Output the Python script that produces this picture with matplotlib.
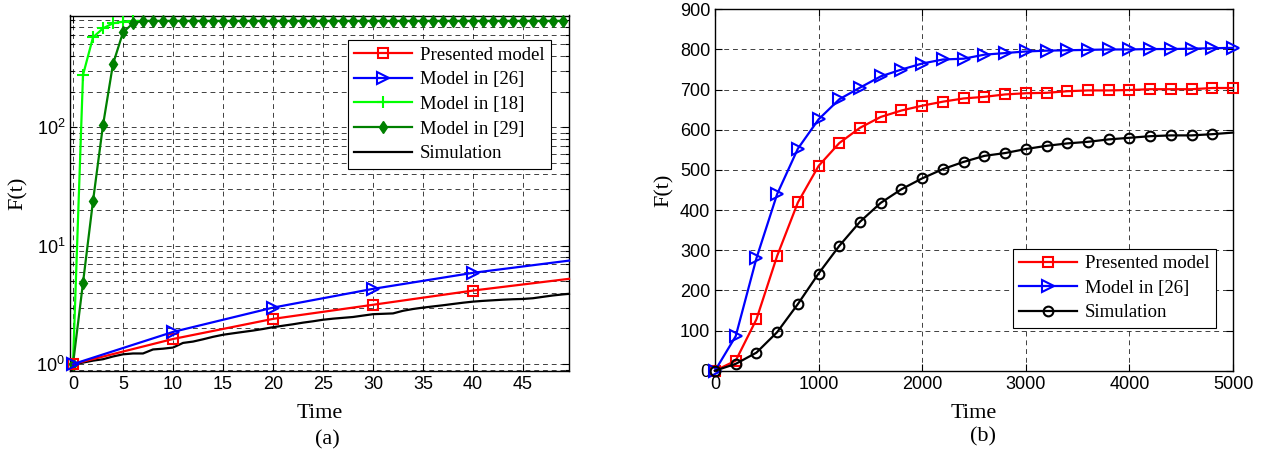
import numpy as np
import matplotlib
matplotlib.use("Agg")
import matplotlib.pyplot as plt
from matplotlib.ticker import LogLocator, LogFormatterMathtext, NullFormatter, MultipleLocator

plt.rcParams['mathtext.fontset'] = 'custom'
plt.rcParams['mathtext.rm'] = 'Liberation Sans'
plt.rcParams['mathtext.it'] = 'Liberation Sans'
plt.rcParams['font.family'] = ['Liberation Sans', 'DejaVu Sans']

# ---------------- (a) data ----------------
a_t_marked = [0, 10, 20, 30, 40, 49.6]
a_presented = [1.0, 1.63, 2.41, 3.17, 4.18, 5.25]
a_model26 = [1.0, 1.87, 3.0, 4.32, 5.9, 7.48]

a_t_int = list(range(0, 50))
a_model18 = [1.0, 276, 574, 684, 755, 778] + [790] * 44
a_model29 = [1.0, 4.86, 23.8, 104, 342, 632, 755] + [790] * 43

a_t_sim = list(range(0, 50)) + [49.6]
a_sim = [1.0, 1.03, 1.07, 1.10, 1.16, 1.21, 1.23, 1.23, 1.33, 1.35,
         1.38, 1.51, 1.55, 1.62, 1.70, 1.77, 1.82, 1.87, 1.92, 1.98,
         2.05, 2.11, 2.17, 2.24, 2.30, 2.37, 2.42, 2.46, 2.50, 2.57,
         2.64, 2.66, 2.68, 2.82, 2.92, 3.00, 3.07, 3.14, 3.22, 3.30,
         3.37, 3.42, 3.46, 3.50, 3.53, 3.55, 3.60, 3.70, 3.80, 3.88, 3.92]

# ---------------- (b) data ----------------
b_t = list(range(0, 5001, 200))
b_presented = [0, 25, 128, 286, 419, 510, 567, 605, 632, 648, 660, 670, 678,
               682, 688, 691, 692, 696, 698, 698, 699, 701, 701, 701, 704, 704]
b_model26 = [0, 86, 280, 440, 553, 626, 676, 705, 733, 750, 765, 775, 777,
             787, 791, 795, 797, 798, 799, 800, 800, 801, 801, 802, 803, 804]
b_sim = [0, 17, 45, 96, 166, 242, 311, 371, 418, 452, 479, 502, 520,
         535, 542, 552, 560, 566, 570, 576, 580, 584, 586, 586, 589, 593]

labels_a = ['Presented model', 'Model in [26]', 'Model in [18]', 'Model in [29]', 'Simulation']
labels_b = ['Presented model', 'Model in [26]', 'Simulation']

W, H = 1262, 453
fig = plt.figure(figsize=(W / 100, H / 100), dpi=100)

serif = 'Liberation Serif'
tick_fs = 13
lab_fs = 16
leg_fs = 13.5
lw = 1.6
grid_kw = dict(color='black', linestyle=(0, (5, 4)), linewidth=0.7, alpha=0.75)
leg_kw = dict(prop={'family': serif, 'size': leg_fs}, fancybox=False,
              edgecolor='black', framealpha=1, borderpad=0.35,
              labelspacing=0.4, handlelength=3.1, handletextpad=0.4,
              borderaxespad=0.0)

# ---------------- (a) ----------------
ax1 = fig.add_axes([70 / W, 1 - 370.7 / H, (569 - 70) / W, (370.7 - 15.5) / H])
ax1.plot(a_t_marked, a_presented, color='red', lw=lw, marker='s', ms=7,
         mfc='none', mew=1.5, markevery=[0, 1, 2, 3, 4], clip_on=False, zorder=5,
         label=labels_a[0])
ax1.plot(a_t_marked, a_model26, color='blue', lw=lw, marker='>', ms=8,
         mfc='none', mew=1.5, markevery=[0, 1, 2, 3, 4], clip_on=False, zorder=6,
         label=labels_a[1])
ax1.plot(a_t_int, a_model18, color=(0, 1, 0), lw=lw, marker='+', ms=9, mew=1.5,
         markevery=list(range(0, 7)), clip_on=False, zorder=3, label=labels_a[2])
ax1.plot(a_t_int, a_model29, color=(0, 0.5, 0), lw=lw, marker='d', ms=6,
         mfc=(0, 0.5, 0), mew=1.0, clip_on=False, zorder=4, label=labels_a[3])
ax1.plot(a_t_sim, a_sim, color='black', lw=lw, clip_on=False, zorder=4,
         label=labels_a[4])

ax1.set_yscale('log')
ax1.set_xlim(-0.3, 49.6)
ax1.set_ylim(0.88, 878)
ax1.xaxis.set_major_locator(MultipleLocator(5))
ax1.yaxis.set_major_locator(LogLocator(base=10))
ax1.yaxis.set_major_formatter(LogFormatterMathtext())
ax1.yaxis.set_minor_locator(LogLocator(base=10, subs=np.arange(2, 10)))
ax1.yaxis.set_minor_formatter(NullFormatter())
ax1.grid(True, which='major', **grid_kw)
ax1.grid(True, which='minor', axis='y', **grid_kw)
ax1.set_xticks(range(0, 50, 5))
ax1.set_xlabel('Time', family=serif, fontsize=lab_fs, labelpad=8)
ax1.set_ylabel('F(t)', family=serif, fontsize=lab_fs, labelpad=6)
leg1 = ax1.legend(loc='upper right', bbox_to_anchor=(0.964, 0.931), **leg_kw)
leg1.get_frame().set_linewidth(0.8)
fig.text(327 / W, 1 - 440 / H, '(a)', family=serif, fontsize=lab_fs,
         ha='center', va='center')

# ---------------- (b) ----------------
ax2 = fig.add_axes([715 / W, 1 - 370.7 / H, (1233 - 715) / W, (370.7 - 9.3) / H])
ax2.plot(b_t, b_presented, color='red', lw=lw, marker='s', ms=7, mfc='none',
         mew=1.5, clip_on=False, zorder=5, label=labels_b[0])
ax2.plot(b_t, b_model26, color='blue', lw=lw, marker='>', ms=8, mfc='none',
         mew=1.5, clip_on=False, zorder=5, label=labels_b[1])
ax2.plot(b_t, b_sim, color='black', lw=lw, marker='o', ms=7, mfc='none',
         mew=1.5, markevery=list(range(0, 25)), clip_on=False, zorder=5,
         label=labels_b[2])
ax2.set_xlim(0, 5000)
ax2.set_ylim(0, 900)
ax2.set_xticks(range(0, 5001, 1000))
ax2.set_yticks(range(0, 901, 100))
ax2.grid(True, **grid_kw)
ax2.set_xlabel('Time', family=serif, fontsize=lab_fs, labelpad=8)
ax2.set_ylabel('F(t)', family=serif, fontsize=lab_fs, labelpad=4)
leg2 = ax2.legend(loc='lower right', bbox_to_anchor=(0.967, 0.118), **leg_kw)
leg2.get_frame().set_linewidth(0.8)
fig.text(983 / W, 1 - 437 / H, '(b)', family=serif, fontsize=lab_fs,
         ha='center', va='center')

for ax in (ax1, ax2):
    ax.tick_params(which='both', direction='in', top=True, right=True,
                   labelsize=tick_fs, width=0.8)
    ax.tick_params(which='major', length=5)
    ax.tick_params(which='minor', length=3)
    for s in ax.spines.values():
        s.set_linewidth(1.0)
    ax.set_axisbelow(True)

fig.savefig('out.png', dpi=100)
